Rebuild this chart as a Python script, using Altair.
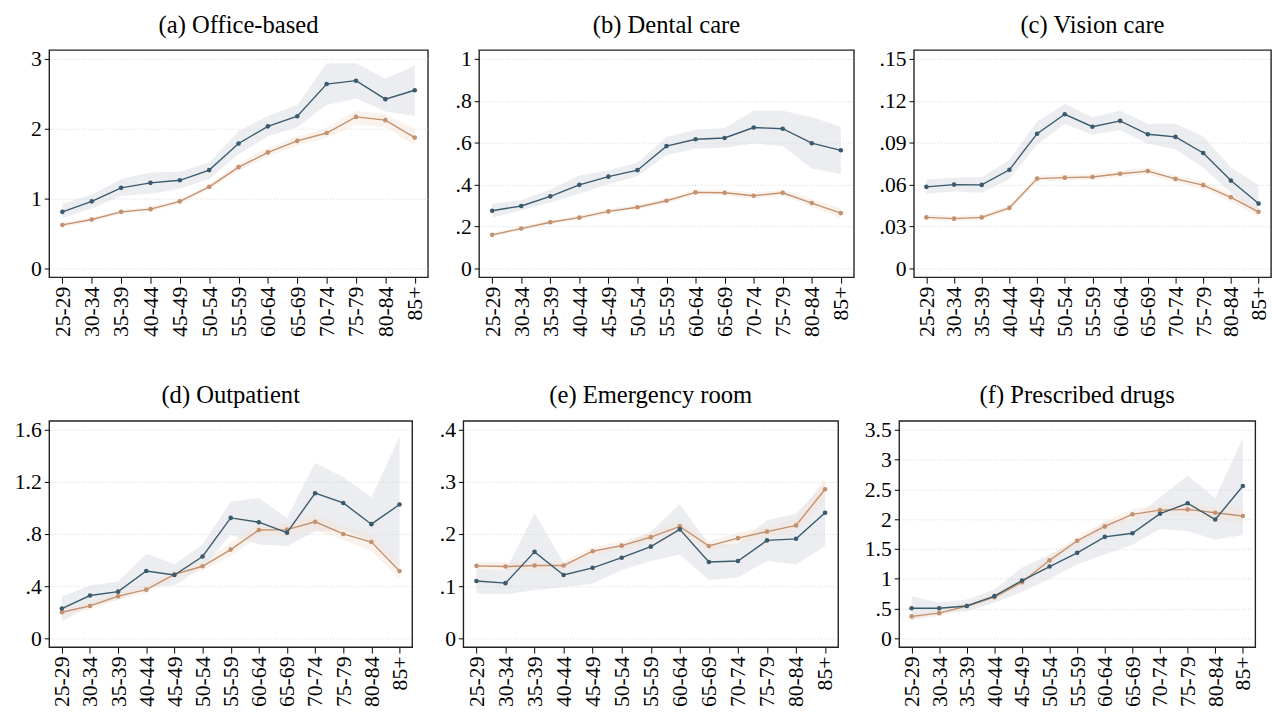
import altair as alt
import pandas as pd

ages = ["25-29", "30-34", "35-39", "40-44", "45-49", "50-54", "55-59",
        "60-64", "65-69", "70-74", "75-79", "80-84", "85+"]

# (a) Office-based
a_blue = [0.81, 0.96, 1.154, 1.225, 1.262, 1.408, 1.79, 2.035, 2.18, 2.642, 2.69, 2.425, 2.553]
a_blue_lo = [0.72, 0.857, 1.036, 1.07, 1.14, 1.28, 1.634, 1.893, 2.025, 2.34, 2.435, 2.247, 2.185]
a_blue_hi = [0.93, 1.055, 1.28, 1.375, 1.385, 1.517, 1.964, 2.185, 2.34, 2.94, 2.94, 2.717, 2.906]
a_orng = [0.622, 0.70, 0.81, 0.848, 0.96, 1.168, 1.45, 1.662, 1.827, 1.94, 2.171, 2.124, 1.874]
a_orng_lo = [0.59, 0.67, 0.78, 0.815, 0.925, 1.13, 1.40, 1.60, 1.76, 1.87, 2.06, 2.025, 1.76]
a_orng_hi = [0.655, 0.73, 0.84, 0.88, 0.995, 1.205, 1.50, 1.73, 1.89, 2.01, 2.26, 2.21, 1.997]

# (b) Dental care
b_blue = [0.275, 0.298, 0.344, 0.399, 0.438, 0.469, 0.584, 0.617, 0.623, 0.673, 0.667, 0.598, 0.564]
b_blue_lo = [0.242, 0.278, 0.314, 0.356, 0.403, 0.44, 0.54, 0.571, 0.576, 0.597, 0.584, 0.477, 0.451]
b_blue_hi = [0.309, 0.325, 0.377, 0.443, 0.469, 0.505, 0.628, 0.662, 0.67, 0.753, 0.753, 0.722, 0.678]
b_orng = [0.16, 0.19, 0.22, 0.242, 0.272, 0.292, 0.323, 0.363, 0.361, 0.347, 0.361, 0.312, 0.264]
b_orng_lo = [0.15, 0.18, 0.21, 0.232, 0.261, 0.281, 0.311, 0.35, 0.347, 0.333, 0.346, 0.294, 0.239]
b_orng_hi = [0.17, 0.20, 0.23, 0.252, 0.283, 0.303, 0.335, 0.376, 0.375, 0.361, 0.376, 0.333, 0.286]

# (c) Vision care
c_blue = [0.0584, 0.060, 0.0598, 0.0706, 0.0965, 0.1104, 0.1015, 0.1057, 0.0961, 0.0942, 0.0827, 0.0629, 0.0464]
c_blue_lo = [0.0535, 0.0551, 0.0542, 0.064, 0.0888, 0.1036, 0.0958, 0.0989, 0.0895, 0.0852, 0.0723, 0.0542, 0.0381]
c_blue_hi = [0.0636, 0.065, 0.0652, 0.0777, 0.1053, 0.1177, 0.1083, 0.113, 0.1036, 0.1036, 0.0947, 0.0723, 0.0598]
c_orng = [0.0365, 0.0356, 0.0365, 0.0433, 0.0643, 0.065, 0.0655, 0.0678, 0.0697, 0.0641, 0.0596, 0.0509, 0.0405]
c_orng_lo = [0.0345, 0.0337, 0.0346, 0.0413, 0.0622, 0.0629, 0.0633, 0.0655, 0.0672, 0.0615, 0.0568, 0.0478, 0.037]
c_orng_hi = [0.0385, 0.0375, 0.0384, 0.0453, 0.0664, 0.0671, 0.0677, 0.0701, 0.0722, 0.0667, 0.0624, 0.054, 0.0433]

# (d) Outpatient
d_blue = [0.228, 0.328, 0.358, 0.516, 0.486, 0.628, 0.924, 0.891, 0.811, 1.114, 1.039, 0.876, 1.027]
d_blue_lo = [0.13, 0.248, 0.293, 0.393, 0.406, 0.543, 0.794, 0.719, 0.706, 0.819, 0.831, 0.744, 0.543]
d_blue_hi = [0.318, 0.406, 0.436, 0.648, 0.569, 0.719, 1.049, 1.077, 0.924, 1.345, 1.239, 1.079, 1.55]
d_orng = [0.20, 0.248, 0.323, 0.373, 0.491, 0.553, 0.681, 0.831, 0.834, 0.894, 0.801, 0.739, 0.516]
d_orng_lo = [0.17, 0.22, 0.295, 0.345, 0.46, 0.52, 0.631, 0.781, 0.785, 0.831, 0.756, 0.669, 0.456]
d_orng_hi = [0.23, 0.276, 0.351, 0.401, 0.522, 0.586, 0.731, 0.881, 0.88, 0.956, 0.856, 0.799, 0.581]

# (e) Emergency room
e_blue = [0.110, 0.1058, 0.1659, 0.1214, 0.1352, 0.1546, 0.1759, 0.2091, 0.1465, 0.1484, 0.1878, 0.1909, 0.241]
e_blue_lo = [0.0858, 0.0845, 0.092, 0.0983, 0.1045, 0.1308, 0.1484, 0.1609, 0.112, 0.1171, 0.1484, 0.1421, 0.1765]
e_blue_hi = [0.1327, 0.1296, 0.2404, 0.1452, 0.1609, 0.1797, 0.2047, 0.2579, 0.1797, 0.1809, 0.2266, 0.2391, 0.2986]
e_orng = [0.139, 0.1377, 0.1396, 0.1396, 0.1671, 0.1778, 0.1941, 0.2147, 0.1771, 0.1922, 0.2047, 0.2166, 0.286]
e_orng_lo = [0.131, 0.1297, 0.1316, 0.1316, 0.1585, 0.1692, 0.1851, 0.2047, 0.1681, 0.1812, 0.1947, 0.2046, 0.267]
e_orng_hi = [0.147, 0.1457, 0.1476, 0.1476, 0.1757, 0.1864, 0.2031, 0.2247, 0.1861, 0.2032, 0.2147, 0.2286, 0.308]

# (f) Prescribed drugs
f_blue = [0.504, 0.504, 0.542, 0.707, 0.969, 1.205, 1.435, 1.703, 1.764, 2.092, 2.268, 1.994, 2.558]
f_blue_lo = [0.301, 0.433, 0.449, 0.597, 0.778, 0.997, 1.243, 1.408, 1.572, 1.835, 1.802, 1.654, 1.736]
f_blue_hi = [0.707, 0.597, 0.652, 0.816, 1.189, 1.408, 1.638, 1.955, 2.01, 2.366, 2.733, 2.35, 3.369]
f_orng = [0.367, 0.422, 0.542, 0.69, 0.942, 1.309, 1.638, 1.879, 2.081, 2.153, 2.164, 2.109, 2.054]
f_orng_lo = [0.31, 0.37, 0.49, 0.635, 0.88, 1.24, 1.56, 1.80, 1.99, 2.07, 2.07, 2.0, 1.91]
f_orng_hi = [0.42, 0.47, 0.595, 0.745, 1.0, 1.38, 1.71, 1.96, 2.17, 2.24, 2.26, 2.2, 2.2]

titles = ["(a) Office-based", "(b) Dental care", "(c) Vision care",
          "(d) Outpatient", "(e) Emergency room", "(f) Prescribed drugs"]
yticks = [
    [0, 1, 2, 3],
    [0, 0.2, 0.4, 0.6, 0.8, 1],
    [0, 0.03, 0.06, 0.09, 0.12, 0.15],
    [0, 0.4, 0.8, 1.2, 1.6],
    [0, 0.1, 0.2, 0.3, 0.4],
    [0, 0.5, 1, 1.5, 2, 2.5, 3, 3.5],
]
series = [
    (a_blue, a_blue_lo, a_blue_hi, a_orng, a_orng_lo, a_orng_hi),
    (b_blue, b_blue_lo, b_blue_hi, b_orng, b_orng_lo, b_orng_hi),
    (c_blue, c_blue_lo, c_blue_hi, c_orng, c_orng_lo, c_orng_hi),
    (d_blue, d_blue_lo, d_blue_hi, d_orng, d_orng_lo, d_orng_hi),
    (e_blue, e_blue_lo, e_blue_hi, e_orng, e_orng_lo, e_orng_hi),
    (f_blue, f_blue_lo, f_blue_hi, f_orng, f_orng_lo, f_orng_hi),
]

widths = [385, 381, 363, 369, 381, 362]
heights = [231, 231, 231, 230, 230, 230]
yextents = [33, 40, 49, 49, 40, 50]

BLUE = "#3b5a6d"
ORNG = "#c4916e"
BLUE_BAND = "#d2d8de"
ORNG_BAND = "#f5e2d4"
FONT = "Liberation Serif"


def panel(i):
    b, blo, bhi, o, olo, ohi = series[i]
    df = pd.DataFrame({"age": ages, "b": b, "blo": blo, "bhi": bhi,
                       "o": o, "olo": olo, "ohi": ohi})
    top = yticks[i][-1]
    pad = 0.043 * top
    xenc = alt.X("age:N", sort=ages,
                 scale=alt.Scale(type="point", padding=0.45),
                 axis=alt.Axis(title=None, labelAngle=270, labelFont=FONT,
                               labelFontSize=22, labelColor="black",
                               tickSize=6, tickColor="black", domain=False,
                               grid=False, labelPadding=3,
                               labelOverlap=False))
    yscale = alt.Scale(domain=[-pad, top + pad], nice=False, zero=False)
    yaxis = alt.Axis(title=None, values=yticks[i], format="~g",
                     labelExpr="replace(datum.label, '0.', '.')",
                     labelFont=FONT, labelFontSize=22, labelColor="black",
                     tickSize=5, tickColor="black", domain=False,
                     grid=True, gridColor="#c8c8c8", gridDash=[1, 2],
                     gridWidth=0.8, labelPadding=3, labelOverlap=False,
                     minExtent=yextents[i], maxExtent=yextents[i])
    base = alt.Chart(df).encode(x=xenc)
    bband = base.mark_area(color=BLUE_BAND, opacity=0.45).encode(
        y=alt.Y("blo:Q", scale=yscale, axis=yaxis), y2="bhi:Q")
    oband = base.mark_area(color=ORNG_BAND, opacity=0.45).encode(
        y=alt.Y("olo:Q", scale=yscale, axis=yaxis), y2="ohi:Q")
    oline = base.mark_line(color=ORNG, strokeWidth=1.4).encode(
        y=alt.Y("o:Q", scale=yscale, axis=yaxis))
    opts = base.mark_circle(color=ORNG, size=22, opacity=1).encode(
        y=alt.Y("o:Q", scale=yscale, axis=yaxis))
    bline = base.mark_line(color=BLUE, strokeWidth=1.4).encode(
        y=alt.Y("b:Q", scale=yscale, axis=yaxis))
    bpts = base.mark_circle(color=BLUE, size=22, opacity=1).encode(
        y=alt.Y("b:Q", scale=yscale, axis=yaxis))
    return alt.layer(bband, oband, oline, opts, bline, bpts).properties(
        width=widths[i], height=heights[i],
        title=alt.TitleParams(titles[i], font=FONT, fontSize=25,
                              fontWeight="normal", color="black",
                              anchor="middle", offset=11))


row1 = alt.hconcat(panel(0), panel(1), panel(2), spacing=10)
row2 = alt.hconcat(panel(3), panel(4), panel(5), spacing=10)
chart = alt.vconcat(row1, row2, spacing=45).configure(
    padding={"left": 0, "top": 6, "right": 0, "bottom": 0},
    background="white",
).configure_view(stroke="#222222", strokeWidth=1.4)

chart.save("out.html", embed_options={"renderer": "svg", "actions": False})
